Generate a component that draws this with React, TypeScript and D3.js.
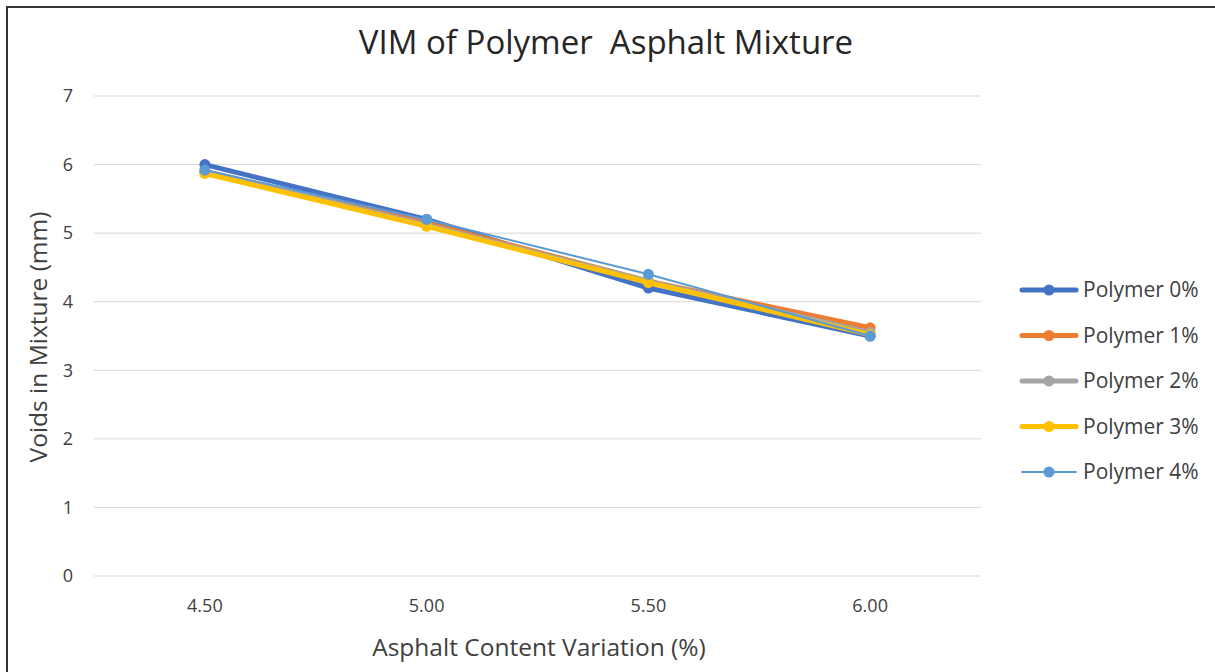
import React, { useEffect, useRef } from "react";
import * as d3 from "d3";

const categories = ["4.50", "5.00", "5.50", "6.00"];
const seriesNames = ["Polymer 0%", "Polymer 1%", "Polymer 2%", "Polymer 3%", "Polymer 4%"];
const p0 = [6.0, 5.2, 4.2, 3.5];
const p1 = [5.9, 5.15, 4.3, 3.62];
const p2 = [5.9, 5.12, 4.3, 3.55];
const p3 = [5.87, 5.1, 4.28, 3.52];
const p4 = [5.92, 5.2, 4.4, 3.5];
const seriesColors = ["#4472C4", "#ED7D31", "#A5A5A5", "#FFC000", "#5B9BD5"];
const seriesWidths = [5, 5, 5, 5, 2];
const yTicks = [0, 1, 2, 3, 4, 5, 6, 7];

const W = 1215;
const H = 672;
const FONT = "'Open Sans', 'Liberation Sans', sans-serif";

export default function App() {
  const ref = useRef<SVGSVGElement>(null);
  useEffect(() => {
    document.body.style.margin = "0";
    const svg = d3.select(ref.current);
    svg.selectAll("*").remove();
    const left = 94, right = 981, top = 96, bottom = 576;
    const x = d3.scaleBand().domain(categories).range([left, right]);
    const y = d3.scaleLinear().domain([0, 7]).range([bottom, top]);
    const cx = (c: string) => (x(c) as number) + x.bandwidth() / 2;

    svg.append("rect").attr("width", W).attr("height", H).attr("fill", "#fff");
    svg.append("rect").attr("x", 7).attr("y", 7).attr("width", W + 20).attr("height", H + 20)
      .attr("fill", "none").attr("stroke", "#333").attr("stroke-width", 2);

    // grid
    svg.append("g").selectAll("line").data(yTicks).join("line")
      .attr("x1", left).attr("x2", right)
      .attr("y1", d => y(d)).attr("y2", d => y(d))
      .attr("stroke", "#d9d9d9").attr("stroke-width", 1);

    // y tick labels
    svg.append("g").selectAll("text").data(yTicks).join("text")
      .attr("x", 73).attr("y", d => y(d)).attr("dy", "0.35em")
      .attr("text-anchor", "end").attr("font-family", FONT).attr("font-size", 18)
      .attr("fill", "#404040").text(d => d);

    // x tick labels
    svg.append("g").selectAll("text").data(categories).join("text")
      .attr("x", d => cx(d)).attr("y", 606).attr("dy", "0.35em")
      .attr("text-anchor", "middle").attr("font-family", FONT).attr("font-size", 18)
      .attr("fill", "#404040").text(d => d);

    // titles
    svg.append("text").attr("x", 606).attr("y", 42).attr("dy", "0.35em").attr("text-anchor", "middle")
      .attr("font-family", FONT).attr("font-size", 33).attr("fill", "#262626")
      .style("white-space", "pre")
      .text("VIM of Polymer  Asphalt Mixture");
    svg.append("text").attr("x", 539).attr("y", 647).attr("dy", "0.35em").attr("text-anchor", "middle")
      .attr("font-family", FONT).attr("font-size", 24.5).attr("fill", "#404040")
      .text("Asphalt Content Variation (%)");
    svg.append("text").attr("transform", `translate(38,${(top + bottom) / 2 + 1}) rotate(-90)`)
      .attr("text-anchor", "middle").attr("dy", "0.35em")
      .attr("font-family", FONT).attr("font-size", 24.5).attr("fill", "#404040")
      .text("Voids in Mixture (mm)");

    const allSeries = [p0, p1, p2, p3, p4];
    const line = d3.line<number>().x((_, i) => cx(categories[i])).y(d => y(d));
    allSeries.forEach((vals, si) => {
      const g = svg.append("g");
      g.append("path").attr("d", line(vals) as string).attr("fill", "none")
        .attr("stroke", seriesColors[si]).attr("stroke-width", seriesWidths[si])
        .attr("stroke-linejoin", "round").attr("stroke-linecap", "round");
      g.selectAll("circle").data(vals).join("circle")
        .attr("cx", (_, i) => cx(categories[i])).attr("cy", d => y(d)).attr("r", 5.5)
        .attr("fill", seriesColors[si]);
    });

    // legend
    const lg = svg.append("g");
    seriesNames.forEach((name, i) => {
      const ly = 290 + i * 45.5;
      lg.append("line").attr("x1", 1022).attr("x2", 1076).attr("y1", ly).attr("y2", ly)
        .attr("stroke", seriesColors[i]).attr("stroke-width", seriesWidths[i])
        .attr("stroke-linecap", "round");
      lg.append("circle").attr("cx", 1049).attr("cy", ly).attr("r", 5.5).attr("fill", seriesColors[i]);
      lg.append("text").attr("x", 1083).attr("y", ly).attr("dy", "0.35em")
        .attr("font-family", FONT).attr("font-size", 21).attr("fill", "#404040").text(name);
    });
  }, []);
  return <svg ref={ref} width={W} height={H} style={{ display: "block" }} />;
}
